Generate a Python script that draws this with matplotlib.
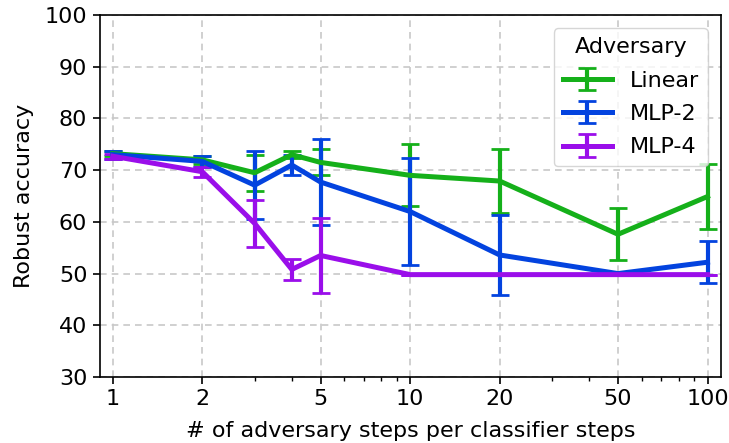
import matplotlib
matplotlib.use("Agg")
import matplotlib.pyplot as plt
from matplotlib.ticker import FixedLocator, LogLocator, NullFormatter, FixedFormatter

steps = [1, 2, 3, 4, 5, 10, 20, 50, 100]
tick_steps = [1, 2, 5, 10, 20, 50, 100]

linear_acc = [73.2, 72.0, 69.5, 73.0, 71.5, 69.0, 67.9, 57.6, 64.9]
linear_err = [0.5, 0.8, 3.5, 0.7, 2.5, 6.0, 6.1, 5.0, 6.3]
mlp2_acc = [73.0, 71.7, 67.1, 71.0, 67.7, 62.0, 53.6, 50.0, 52.2]
mlp2_err = [0.8, 1.0, 6.6, 2.0, 8.3, 10.3, 7.8, 0.0, 4.1]
mlp4_acc = [72.7, 69.7, 59.7, 50.8, 53.5, 49.8, 49.8, 49.8, 49.8]
mlp4_err = [0.5, 1.0, 4.5, 2.1, 7.3, 0.0, 0.0, 0.0, 0.0]

series = [
    ("Linear", linear_acc, linear_err, "#15b01a"),
    ("MLP-2", mlp2_acc, mlp2_err, "#0343df"),
    ("MLP-4", mlp4_acc, mlp4_err, "#9a0eea"),
]

FS = 16

fig = plt.figure(figsize=(7.29, 4.43), dpi=100)
ax = fig.add_axes([0.137, 0.149, 0.852, 0.817])

for name, acc, err, c in series:
    ax.errorbar(steps, acc, yerr=err, color=c, lw=3.6, elinewidth=3,
                capsize=6.5, capthick=2, label=name)

ax.set_xscale("log")
ax.set_xlim(0.905, 111)
ax.set_ylim(30, 100)
ax.xaxis.set_major_locator(FixedLocator(tick_steps))
ax.xaxis.set_major_formatter(FixedFormatter([str(s) for s in tick_steps]))
ax.xaxis.set_minor_locator(LogLocator(base=10, subs=(3, 4, 6, 7, 8, 9)))
ax.xaxis.set_minor_formatter(NullFormatter())
ax.set_yticks(range(30, 101, 10))
ax.tick_params(which="major", labelsize=FS, length=5, width=1.2, pad=4)
ax.tick_params(which="minor", length=3, width=1.0)
ax.grid(True, which="major", ls=(0, (4, 3)), color="#c8c8c8", lw=1.2)
ax.set_axisbelow(True)
for sp in ax.spines.values():
    sp.set_linewidth(1.2)

ax.set_xlabel("# of adversary steps per classifier steps", fontsize=FS, labelpad=8)
ax.set_ylabel("Robust accuracy", fontsize=FS, labelpad=8)

leg = ax.legend(title="Adversary", loc="upper right", fontsize=FS,
                title_fontsize=FS, handlelength=2.2, borderaxespad=0.6,
                labelspacing=0.6)

fig.savefig("out.png", dpi=100)
